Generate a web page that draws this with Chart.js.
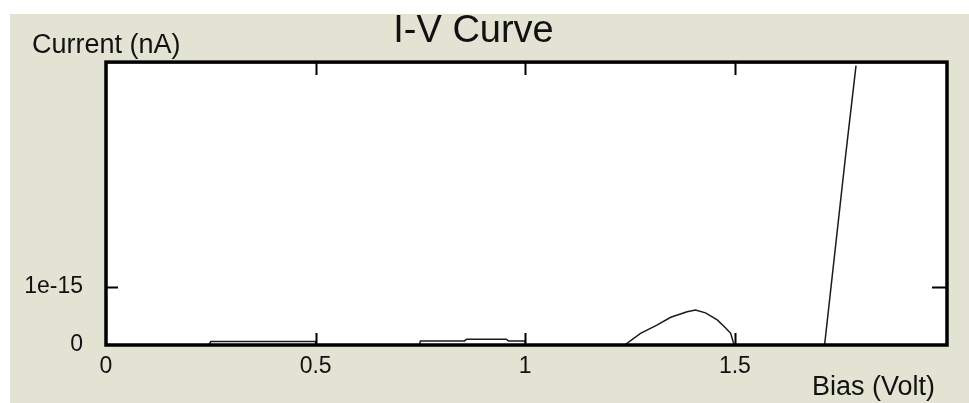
<!DOCTYPE html>
<html>
<head>
<meta charset="utf-8">
<title>I-V Curve</title>
<style>
  html, body { margin: 0; padding: 0; background: #ffffff; }
  #wrap { width: 969px; height: 403px; position: relative; }
</style>
<script src="https://cdn.jsdelivr.net/npm/chart.js@4.4.1/dist/chart.umd.min.js"></script>
</head>
<body>
<div id="wrap"><canvas id="ivChart" width="969" height="403"></canvas></div>
<script>
// Measured I-V sweep: bias voltage (V) and current
const biasVolts = [
  0, 0.245, 0.25, 0.5, 0.5, 0.748, 0.75, 0.855, 0.86, 0.955, 0.96, 1.0, 1.0, 1.033,
  1.237, 1.275, 1.314, 1.347, 1.386, 1.406, 1.43, 1.458, 1.478, 1.49, 1.496, 1.5,
  1.714, 1.764, 1.789
];
const currentValues = [
  0, 0, 0.06e-15, 0.06e-15, 0, 0, 0.07e-15, 0.07e-15, 0.1e-15, 0.1e-15, 0.07e-15, 0.07e-15, 0, 0,
  0, 0.2e-15, 0.34e-15, 0.475e-15, 0.57e-15, 0.6e-15, 0.55e-15, 0.43e-15, 0.29e-15, 0.2e-15, 0.05e-15, 0,
  0, 3.23e-15, 4.78e-15
];

// Axis ticks
const xTickValues = [0, 0.5, 1, 1.5];
const xTickLabels = ['0', '0.5', '1', '1.5'];
const yTickValues = [0, 1e-15];
const yTickLabels = ['0', '1e-15'];

const chartTitle = 'I-V Curve';
const yAxisLabel = 'Current (nA)';
const xAxisLabel = 'Bias (Volt)';

const FONT = 'Liberation Sans, Arial, sans-serif';
const PANEL = '#e3e3d4';
const INK = '#111111';

// Panel background, boxed plot frame with inward tick marks, and axis captions
const framePlugin = {
  id: 'ivFrame',
  beforeDraw(chart) {
    const { ctx, chartArea: a, width, height } = chart;
    ctx.save();
    ctx.fillStyle = '#ffffff';
    ctx.fillRect(0, 0, width, height);
    ctx.fillStyle = PANEL;
    ctx.fillRect(10, 14, width - 10, height - 14);
    ctx.fillStyle = '#ffffff';
    ctx.fillRect(a.left, a.top, a.right - a.left, a.bottom - a.top);
    ctx.restore();
  },
  afterDatasetsDraw(chart) {
    const { ctx, chartArea: a, scales } = chart;
    ctx.save();
    ctx.strokeStyle = '#000000';
    // inward tick marks on all four sides
    ctx.lineWidth = 2;
    ctx.beginPath();
    xTickValues.forEach(v => {
      if (v === 0) return;
      const px = Math.round(scales.x.getPixelForValue(v)) + 0.5;
      ctx.moveTo(px, a.bottom);
      ctx.lineTo(px, a.bottom - 12);
      ctx.moveTo(px, a.top);
      ctx.lineTo(px, a.top + 13);
    });
    yTickValues.forEach(v => {
      if (v === 0) return;
      const py = Math.round(scales.y.getPixelForValue(v)) + 0.5;
      ctx.moveTo(a.left, py);
      ctx.lineTo(a.left + 12, py);
      ctx.moveTo(a.right, py);
      ctx.lineTo(a.right - 15, py);
    });
    ctx.stroke();
    // frame
    ctx.lineWidth = 3.5;
    ctx.strokeRect(a.left, a.top, a.right - a.left, a.bottom - a.top);
    // axis captions
    ctx.fillStyle = INK;
    ctx.font = '27px ' + FONT;
    ctx.textBaseline = 'alphabetic';
    ctx.textAlign = 'left';
    ctx.fillText(yAxisLabel, 32, 52.5);
    ctx.textAlign = 'right';
    ctx.fillText(xAxisLabel, 935, 395);
    ctx.restore();
  }
};

const tickFont = { family: FONT, size: 23 };

new Chart(document.getElementById('ivChart'), {
  type: 'line',
  data: {
    datasets: [{
      data: biasVolts.map((x, i) => ({ x: x, y: currentValues[i] })),
      borderColor: '#1a1a1a',
      borderWidth: 1.5,
      pointRadius: 0,
      tension: 0,
      fill: false
    }]
  },
  options: {
    responsive: false,
    animation: false,
    devicePixelRatio: 1,
    layout: { padding: { left: 0, right: 22, top: 0, bottom: 0 } },
    plugins: {
      legend: { display: false },
      tooltip: { enabled: false },
      title: {
        display: true,
        text: chartTitle,
        color: INK,
        font: { family: FONT, size: 38, weight: 'normal', lineHeight: 1.2 },
        padding: { top: 8.5, bottom: 8 }
      }
    },
    scales: {
      x: {
        type: 'linear',
        min: 0,
        max: 2.006,
        grid: { display: false, drawTicks: false },
        border: { display: false },
        ticks: {
          color: INK,
          font: tickFont,
          padding: 8,
          maxRotation: 0,
          autoSkip: false,
          callback: (v) => {
            const i = xTickValues.indexOf(v);
            return i >= 0 ? xTickLabels[i] : '';
          }
        },
        afterBuildTicks: (s) => { s.ticks = xTickValues.map(v => ({ value: v })); },
        afterFit: (s) => { s.height = 58; }
      },
      y: {
        type: 'linear',
        min: 0,
        max: 4.84e-15,
        grid: { display: false, drawTicks: false },
        border: { display: false },
        ticks: {
          color: INK,
          font: tickFont,
          padding: 23,
          autoSkip: false,
          callback: (v) => {
            const i = yTickValues.indexOf(v);
            return i >= 0 ? yTickLabels[i] : '';
          }
        },
        afterBuildTicks: (s) => { s.ticks = yTickValues.map(v => ({ value: v })); },
        afterFit: (s) => { s.width = 106; }
      }
    }
  },
  plugins: [framePlugin]
});
</script>
</body>
</html>
